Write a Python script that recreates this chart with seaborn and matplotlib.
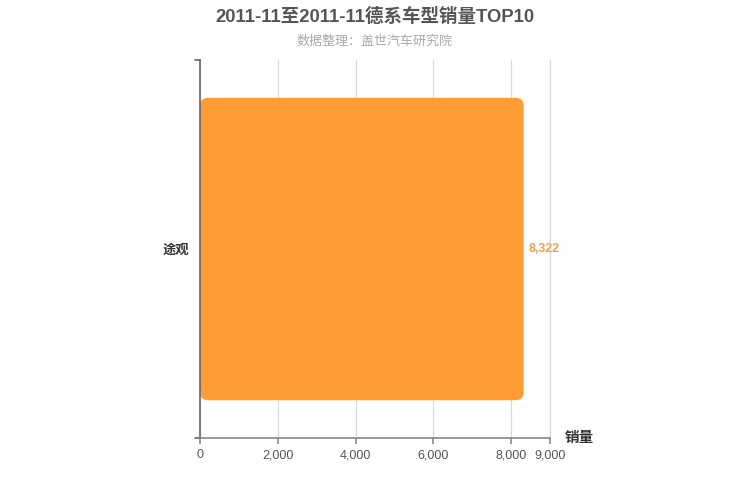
import matplotlib
matplotlib.use("Agg")
import matplotlib.pyplot as plt
import seaborn as sns
import pandas as pd
from matplotlib.patches import FancyBboxPatch

categories = ["途观"]
sales = [8322]
xticks = [0, 2000, 4000, 6000, 8000, 9000]
title = "2011-11至2011-11德系车型销量TOP10"
subtitle = "数据整理：盖世汽车研究院"
axis_name = "销量"

sns.set_style("white")
plt.rcParams['font.family'] = ['Liberation Sans', 'Noto Sans CJK SC', 'DejaVu Sans']

df = pd.DataFrame({"model": categories, "sales": sales})

fig = plt.figure(figsize=(7.5, 5), dpi=100)
ax = fig.add_axes([200/750, 62/500, 350/750, 378/500])

bar_color = "#FF9C33"
sns.barplot(data=df, x="sales", y="model", orient="h", color=bar_color,
            width=0.8, ax=ax, saturation=1)

ax.set_xlim(0, 9000)
ax.set_ylim(0.5, -0.5)

# Replace bars with rounded ones
px_x = 9000 / 350.0
px_y = 1.0 / 378.0
for p in list(ax.patches):
    x0, y0 = p.get_x(), p.get_y()
    w, h = p.get_width(), p.get_height()
    p.remove()
    fb = FancyBboxPatch((x0, y0), w, h,
                        boxstyle=f"round,pad=0,rounding_size={8*px_x}",
                        mutation_aspect=px_y / px_x,
                        facecolor=bar_color, edgecolor="none", zorder=2)
    ax.add_patch(fb)

for i, v in enumerate(sales):
    ax.text(v + 5 * px_x, i, f"{v:,}", color="#F0A050", fontsize=9,
            fontweight="bold", va="center", ha="left")

ax.set_xticks(xticks)
ax.set_xticklabels([f"{t:,}" for t in xticks], color="#555555", fontsize=9)
ax.tick_params(axis="x", bottom=True, length=4, width=1.2, color="#888888",
               direction="out", pad=4)
ax.tick_params(axis="y", left=False, length=0, pad=8)
for lbl in ax.get_yticklabels():
    lbl.set_fontweight("bold")
    lbl.set_color("#333333")
    lbl.set_fontsize(9.5)

ax.xaxis.grid(True, color="#D9D9D9", linewidth=0.9, zorder=0)
ax.axvline(9000, color="#D9D9D9", linewidth=0.9, zorder=0, clip_on=False)
ax.set_axisbelow(True)
for s in ["top", "right"]:
    ax.spines[s].set_visible(False)
ax.spines["left"].set_color("#666666")
ax.spines["left"].set_linewidth(1.2)
ax.spines["bottom"].set_color("#888888")
ax.spines["bottom"].set_linewidth(1.2)
ax.set_xlabel("")
ax.set_ylabel("")

# small ticks on y axis ends
for yv in [0.5, -0.5]:
    ax.plot([-5 * px_x, 0], [yv, yv], color="#666666", lw=1.2, clip_on=False)

ax.text(9000 + 15 * px_x, 0.5, axis_name, fontsize=10.5, fontweight="bold",
        color="#333333", ha="left", va="center")

fig.text(0.5, 1 - 17/500, title, ha="center", va="center", fontsize=13.3,
         fontweight="bold", color="#555555")
fig.text(0.5, 1 - 41/500, subtitle, ha="center", va="center", fontsize=9.4,
         color="#AAAAAA")

fig.savefig("out.png", dpi=100)
